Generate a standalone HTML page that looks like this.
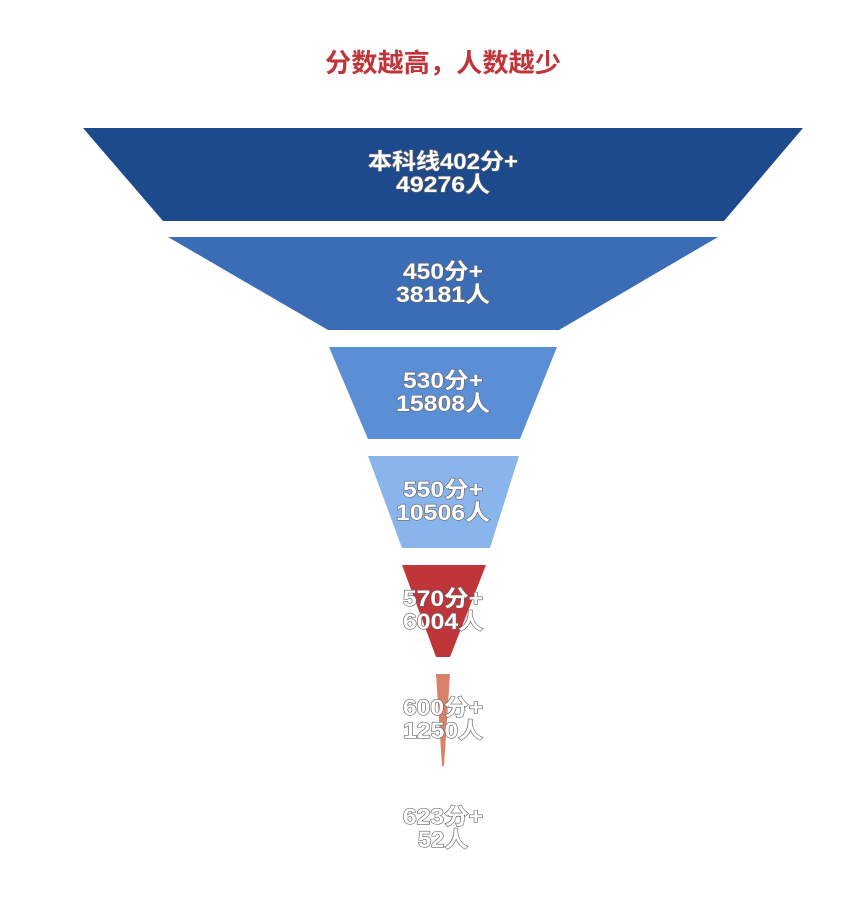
<!DOCTYPE html>
<html><head><meta charset="utf-8"><style>
html,body{margin:0;padding:0;background:#fff;}
svg{display:block;}
text{font-family:"Liberation Sans","Noto Sans CJK SC",sans-serif;font-weight:bold;}
.l{fill:#fff;stroke:#666;stroke-width:1.2px;paint-order:stroke;font-size:22px;text-anchor:middle;}
</style></head><body>
<svg width="862" height="909" viewBox="0 0 862 909" xmlns="http://www.w3.org/2000/svg">
<text x="443" y="72" font-size="26" fill="#c0353a" text-anchor="middle" textLength="236" lengthAdjust="spacingAndGlyphs">分数越高，人数越少</text>
<polygon points="83,128 803,128 724,221 163,221" fill="#1c4a8c"/>
<polygon points="168,237 718,237 559,330 328,330" fill="#3a6db5"/>
<polygon points="329,347 557,347 520,439 368,439" fill="#5b8fd5"/>
<polygon points="368,456 519,456 490,548 402,548" fill="#8ab4ec"/>
<polygon points="402,565 486,565 450,657 436,657" fill="#c0353a"/>
<polygon points="436,674 450,674 444,766 442,766" fill="#d9826a"/>
<text class="l" x="443" y="169" textLength="150" lengthAdjust="spacingAndGlyphs">本科线402分+</text>
<text class="l" x="443" y="192" textLength="94" lengthAdjust="spacingAndGlyphs">49276人</text>
<text class="l" x="443" y="279" textLength="80" lengthAdjust="spacingAndGlyphs">450分+</text>
<text class="l" x="443" y="302" textLength="94" lengthAdjust="spacingAndGlyphs">38181人</text>
<text class="l" x="443" y="388" textLength="80" lengthAdjust="spacingAndGlyphs">530分+</text>
<text class="l" x="443" y="411" textLength="94" lengthAdjust="spacingAndGlyphs">15808人</text>
<text class="l" x="443" y="497" textLength="80" lengthAdjust="spacingAndGlyphs">550分+</text>
<text class="l" x="443" y="520" textLength="94" lengthAdjust="spacingAndGlyphs">10506人</text>
<text class="l" x="443" y="606" textLength="80" lengthAdjust="spacingAndGlyphs">570分+</text>
<text class="l" x="443" y="629" textLength="80" lengthAdjust="spacingAndGlyphs">6004人</text>
<text class="l" x="443" y="715" textLength="80" lengthAdjust="spacingAndGlyphs">600分+</text>
<text class="l" x="443" y="738" textLength="80" lengthAdjust="spacingAndGlyphs">1250人</text>
<text class="l" x="443" y="824" textLength="80" lengthAdjust="spacingAndGlyphs">623分+</text>
<text class="l" x="443" y="847" textLength="50" lengthAdjust="spacingAndGlyphs">52人</text>
</svg>
</body></html>
